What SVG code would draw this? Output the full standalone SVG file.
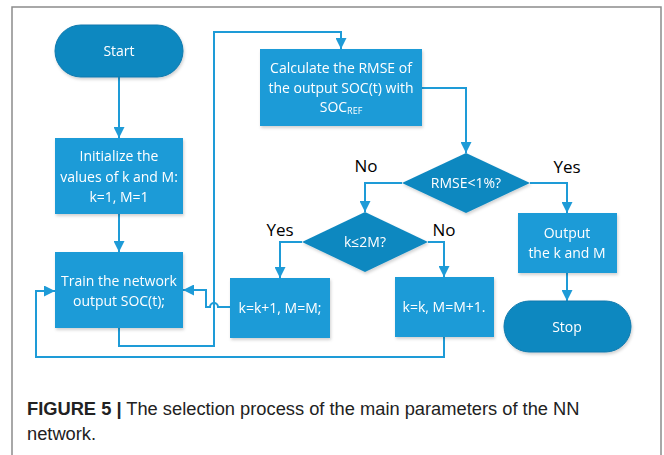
<svg xmlns="http://www.w3.org/2000/svg" width="664" height="455" viewBox="0 0 664 455">
<style>
  .box { fill: #1e9bd7; }
  .term { fill: #1088c0; stroke: #0f79ad; stroke-width: 1; }
  .dia { fill: #1088c0; }
  .t { font-family: "Open Sans", "Noto Sans", sans-serif; font-size: 14px; fill: #ffffff; text-anchor: middle; }
  .lbl { font-family: "Open Sans", "Noto Sans", sans-serif; font-size: 17px; fill: #000000; text-anchor: middle; }
  .conn { fill: none; stroke: #1e9bd7; stroke-width: 2; }
  .cap { font-family: "Liberation Sans", Arial, sans-serif; font-size: 18.3px; fill: #222222; }
</style>
<defs>
  <marker id="ah" viewBox="0 0 10 10" refX="10" refY="5" markerWidth="11" markerHeight="11" markerUnits="userSpaceOnUse" orient="auto">
    <path d="M0,0 L10,5 L0,10 Z" fill="#1e9bd7"/>
  </marker>
  <filter id="sh" x="-10%" y="-10%" width="125%" height="130%">
    <feDropShadow dx="1" dy="2" stdDeviation="1.5" flood-color="#000" flood-opacity="0.18"/>
  </filter>
</defs>
<rect width="664" height="455" fill="#ffffff"/>
<path d="M12,455 V7 H661 V455" fill="none" stroke="#8c8c8c" stroke-width="1.5"/>

<g id="connectors">
  <path class="conn" d="M119,77 V138" marker-end="url(#ah)"/>
  <path class="conn" d="M119,214 V252" marker-end="url(#ah)"/>
  <path class="conn" d="M119,328 V346 H214 V32 H341 V49" marker-end="url(#ah)"/>
  <path class="conn" d="M422,88 H466 V153" marker-end="url(#ah)"/>
  <path class="conn" d="M402,183 H365 V212" marker-end="url(#ah)"/>
  <path class="conn" d="M530,183 H567 V213" marker-end="url(#ah)"/>
  <path class="conn" d="M302,242 H280 V278" marker-end="url(#ah)"/>
  <path class="conn" d="M428,242 H444 V277" marker-end="url(#ah)"/>
  <path class="conn" d="M567,273 V301" marker-end="url(#ah)"/>
  <path class="conn" d="M230,307 H218 A4,4 0 0 0 210,307 H206 V290 H183" marker-end="url(#ah)"/>
  <path class="conn" d="M444,337 V357 H36 V291 H55" marker-end="url(#ah)"/>
</g>

<g id="start" filter="url(#sh)">
  <rect class="term" x="55" y="25" width="128" height="52" rx="26"/>
  <text class="t" x="119" y="56">Start</text>
</g>
<g id="init" filter="url(#sh)">
  <rect class="box" x="55" y="138" width="128" height="76"/>
  <text class="t" x="119" y="161">Initialize the</text>
  <text class="t" x="119" y="182" font-size="15.5">values of k and M:</text>
  <text class="t" x="119" y="202" font-size="15">k=1, M=1</text>
</g>
<g id="train" filter="url(#sh)">
  <rect class="box" x="55" y="252" width="128" height="76"/>
  <text class="t" x="119" y="286">Train the network</text>
  <text class="t" x="119" y="306">output SOC(t);</text>
</g>
<g id="calc" filter="url(#sh)">
  <rect class="box" x="260" y="49" width="162" height="77"/>
  <text class="t" x="341" y="73">Calculate the RMSE of</text>
  <text class="t" x="341" y="93">the output SOC(t) with</text>
  <text class="t" x="341" y="112">SOC<tspan font-size="9" dy="2">REF</tspan></text>
</g>
<g id="rmse" filter="url(#sh)">
  <path class="dia" d="M466,153 L530,183 L466,213 L402,183 Z"/>
  <text class="t" x="466" y="188" font-size="14.5">RMSE&lt;1%?</text>
</g>
<g id="k2m" filter="url(#sh)">
  <path class="dia" d="M365,212 L428,242 L365,272 L302,242 Z"/>
  <text class="t" x="365" y="247" font-size="14.5">k≤2M?</text>
</g>
<g id="kinc" filter="url(#sh)">
  <rect class="box" x="230" y="278" width="100" height="60"/>
  <text class="t" x="280" y="313" font-size="15">k=k+1, M=M;</text>
</g>
<g id="minc" filter="url(#sh)">
  <rect class="box" x="395" y="277" width="99" height="60"/>
  <text class="t" x="444" y="312" font-size="15">k=k, M=M+1.</text>
</g>
<g id="output" filter="url(#sh)">
  <rect class="box" x="518" y="213" width="99" height="60"/>
  <text class="t" x="567" y="238">Output</text>
  <text class="t" x="567" y="258">the k and M</text>
</g>
<g id="stop" filter="url(#sh)">
  <rect class="term" x="504" y="301" width="127" height="51" rx="25.5"/>
  <text class="t" x="567" y="332">Stop</text>
</g>

<g id="labels">
  <text class="lbl" x="366" y="172">No</text>
  <text class="lbl" x="567" y="173">Yes</text>
  <text class="lbl" x="280" y="236">Yes</text>
  <text class="lbl" x="444" y="236">No</text>
</g>

<text class="cap" x="27" y="415"><tspan font-weight="bold">FIGURE 5 |</tspan> The selection process of the main parameters of the NN</text>
<text class="cap" x="27" y="440">network.</text>
</svg>
